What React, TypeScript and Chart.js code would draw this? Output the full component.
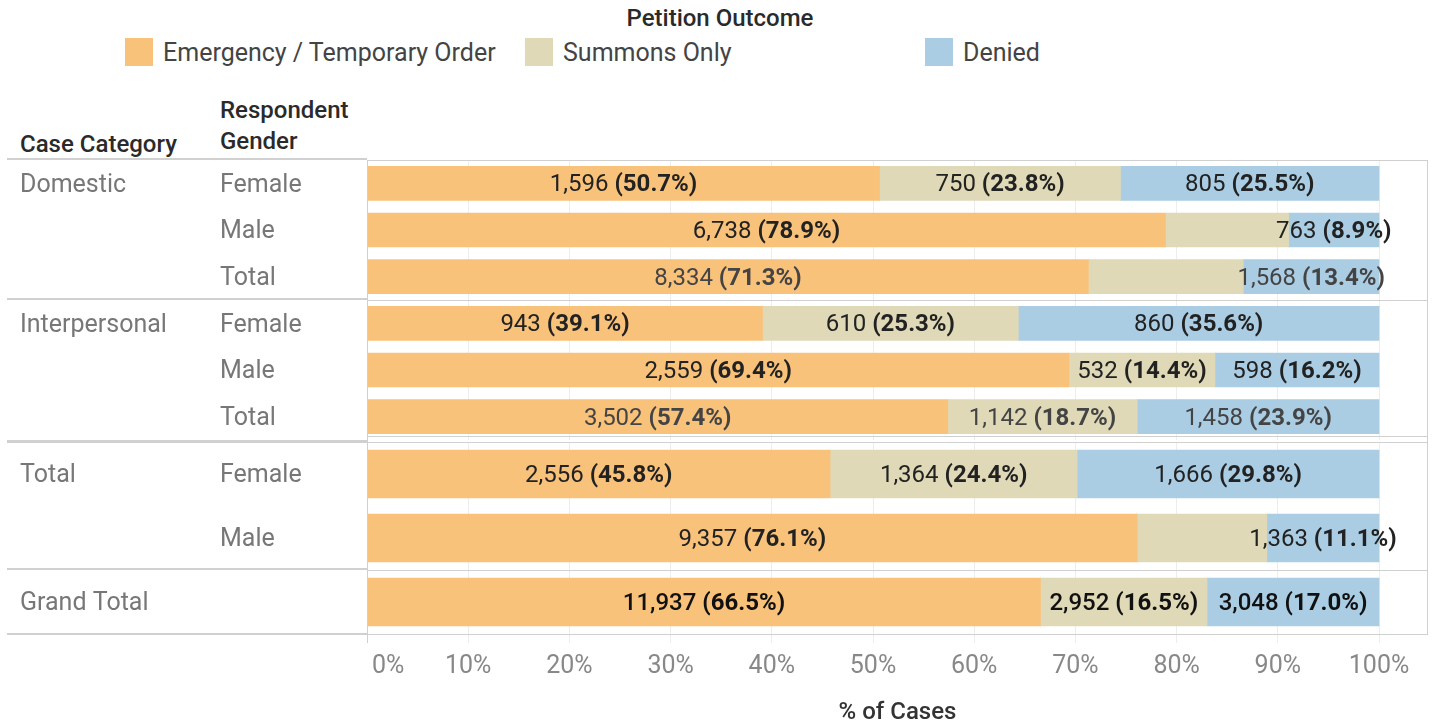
import React, { useEffect, useRef } from 'react';
import { Chart, registerables } from 'chart.js';

Chart.register(...registerables);

// ---------- DATA ----------
const OUTCOMES = ['Emergency / Temporary Order', 'Summons Only', 'Denied'];
const COLORS = ['#F9C27B', '#DFD9B7', '#AACDE4'];

const DOMESTIC_GENDER = ['Female', 'Male', 'Total'];
const DOMESTIC_EMERGENCY = [1596, 6738, 8334];
const DOMESTIC_SUMMONS = [750, 1039, 1789];
const DOMESTIC_DENIED = [805, 763, 1568];

const INTERPERSONAL_GENDER = ['Female', 'Male', 'Total'];
const INTERPERSONAL_EMERGENCY = [943, 2559, 3502];
const INTERPERSONAL_SUMMONS = [610, 532, 1142];
const INTERPERSONAL_DENIED = [860, 598, 1458];

const TOTAL_GENDER = ['Female', 'Male'];
const TOTAL_EMERGENCY = [2556, 9357];
const TOTAL_SUMMONS = [1364, 1575];
const TOTAL_DENIED = [1666, 1363];

const GRAND_GENDER = [''];
const GRAND_EMERGENCY = [11937];
const GRAND_SUMMONS = [2952];
const GRAND_DENIED = [3048];

const X_TICKS = [0, 10, 20, 30, 40, 50, 60, 70, 80, 90, 100];
const X_MAX = 104.84;

const GROUPS = [
  { category: 'Domestic', genders: DOMESTIC_GENDER, series: [DOMESTIC_EMERGENCY, DOMESTIC_SUMMONS, DOMESTIC_DENIED], grand: false },
  { category: 'Interpersonal', genders: INTERPERSONAL_GENDER, series: [INTERPERSONAL_EMERGENCY, INTERPERSONAL_SUMMONS, INTERPERSONAL_DENIED], grand: false },
  { category: 'Total', genders: TOTAL_GENDER, series: [TOTAL_EMERGENCY, TOTAL_SUMMONS, TOTAL_DENIED], grand: false },
  { category: 'Grand Total', genders: GRAND_GENDER, series: [GRAND_EMERGENCY, GRAND_SUMMONS, GRAND_DENIED], grand: true },
];

// ---------- LAYOUT ----------
const FONT = 'Roboto';
const LAYOUT = [
  { top: 160, height: 140, bar: 34, axis: false },
  { top: 300, height: 140, bar: 34, axis: false },
  { top: 442, height: 128, bar: 48, axis: false },
  { top: 570, height: 158, bar: 48, axis: true },
];
const LINE_COLOR = '#d0d0d0';
// [x0, x1, y, thickness]
const H_LINES = [
  [7, 367, 158, 2], [367, 1428, 160, 1],
  [7, 367, 298, 2], [367, 1428, 300, 1],
  [367, 1428, 436, 1], [7, 367, 440, 3], [367, 1428, 442, 1],
  [7, 367, 568, 2], [367, 1428, 570, 1],
  [7, 367, 633, 2], [367, 1428, 634, 1],
];
// [x, y0, y1]
const V_LINES = [[1427, 160, 635], [367, 160, 634]];

const segLabels = {
  id: 'segLabels',
  afterDatasetsDraw(chart: any, _args: any, opts: any) {
    const ctx = chart.ctx;
    const n = chart.data.labels.length;
    const order = [2, 0, 1];
    const size = 24;
    for (let i = 0; i < n; i++) {
      const placed: number[][] = [];
      const gender = chart.data.labels[i];
      const color = opts.grand ? '#111' : gender === 'Total' ? '#444' : '#222';
      const numWeight = opts.grand ? '500' : '400';
      for (const k of order) {
        const meta = chart.getDatasetMeta(k);
        const el: any = meta.data[i];
        const ds: any = chart.data.datasets[k];
        const count = ds.counts[i];
        const pct = ds.data[i];
        if (!count || !el) continue;
        const numText = count.toLocaleString('en-US') + ' ';
        const pctText = '(' + pct.toFixed(1) + '%)';
        ctx.save();
        ctx.font = `${numWeight} ${size}px ${FONT}`;
        const w1 = ctx.measureText(numText).width;
        ctx.font = `bold ${size}px ${FONT}`;
        const w2 = ctx.measureText(pctText).width;
        const w = w1 + w2;
        const cx = (el.x + el.base) / 2;
        const x0 = cx - w / 2;
        const x1 = cx + w / 2;
        if (placed.some(([a, b]) => x0 < b && x1 > a)) { ctx.restore(); continue; }
        placed.push([x0, x1]);
        ctx.fillStyle = color;
        ctx.textBaseline = 'middle';
        ctx.textAlign = 'left';
        ctx.font = `${numWeight} ${size}px ${FONT}`;
        ctx.fillText(numText, x0, el.y + 2);
        ctx.font = `bold ${size}px ${FONT}`;
        ctx.fillText(pctText, x0 + w1, el.y + 2);
        ctx.restore();
      }
    }
  },
};

function GroupChart({ group, layout }: { group: any; layout: any }) {
  const ref = useRef<HTMLCanvasElement>(null);
  useEffect(() => {
    if (!ref.current) return;
    const n = group.genders.length;
    const totals = Array.from({ length: n }, (_, i) =>
      group.series.reduce((s: number, arr: number[]) => s + arr[i], 0)
    );
    const datasets = group.series.map((arr: number[], k: number) => ({
      label: OUTCOMES[k],
      data: arr.map((v, i) => (v / totals[i]) * 100),
      counts: arr,
      backgroundColor: COLORS[k],
      borderWidth: 0,
      barThickness: layout.bar,
    }));
    const catLabels = group.genders.map((_: string, i: number) => (i === 0 ? group.category : ''));
    const rowFont = { family: FONT, size: 25 };
    const chart = new Chart(ref.current, {
      type: 'bar',
      data: { labels: group.genders, datasets },
      options: {
        indexAxis: 'y',
        animation: false,
        responsive: false,
        maintainAspectRatio: false,
        layout: { padding: { left: 20, right: 4, top: 0, bottom: 0 } },
        plugins: {
          legend: { display: false },
          tooltip: { enabled: false },
          segLabels: { grand: group.grand },
        } as any,
        scales: {
          x: {
            type: 'linear',
            stacked: true,
            min: 0,
            max: X_MAX,
            position: 'bottom',
            afterBuildTicks: (s: any) => {
              s.ticks = X_TICKS.map((v) => ({ value: v }));
            },
            afterFit: (s: any) => {
              s.height = layout.axis ? 94 : 0;
            },
            grid: {
              color: (c: any) => (c.tick && c.tick.value === 0 ? LINE_COLOR : '#ededed'),
              lineWidth: 1,
              drawTicks: layout.axis,
              tickLength: 9,
            },
            border: { display: false },
            ticks: {
              display: layout.axis,
              color: '#888',
              font: { family: FONT, size: 25 },
              padding: 9,
              maxRotation: 0,
              autoSkip: false,
              callback: (v: any) => (v === 0 ? '\u2007\u2007\u20070%' : v + '%'),
            },
            title: {
              display: layout.axis,
              text: '% of Cases',
              color: '#333',
              font: { family: FONT, size: 24, weight: '500' },
              padding: { top: 0, bottom: 1 },
            },
          },
          y: {
            type: 'category',
            stacked: true,
            position: 'left',
            weight: 0,
            grid: { display: false },
            border: { display: false },
            ticks: { crossAlign: 'far', color: '#777', font: rowFont, padding: 0, autoSkip: false, labelOffset: 2 },
            afterFit: (s: any) => {
              s.width = 147;
              s.paddingTop = 0;
              s.paddingBottom = 0;
            },
          },
          y2: {
            type: 'category',
            labels: catLabels,
            offset: true,
            position: 'left',
            weight: 1,
            grid: { display: false },
            border: { display: false },
            ticks: { crossAlign: 'far', color: '#777', font: rowFont, padding: 0, autoSkip: false, labelOffset: 2 },
            afterFit: (s: any) => {
              s.width = 200;
              s.paddingTop = 0;
              s.paddingBottom = 0;
            },
          },
        } as any,
      },
      plugins: [segLabels as any],
    });
    return () => chart.destroy();
  }, [group, layout]);
  return (
    <canvas
      ref={ref}
      width={1432}
      height={layout.height}
      style={{ position: 'absolute', left: 0, top: layout.top, display: 'block' }}
    />
  );
}

export default function App() {
  const textBase: React.CSSProperties = { position: 'absolute', fontFamily: FONT, fontSize: 25, lineHeight: '28px', whiteSpace: 'nowrap' };
  return (
    <div style={{ position: 'absolute', left: 0, top: 0, width: 1432, height: 728, overflow: 'hidden', background: '#fff' }}>
      <div style={{ ...textBase, left: 520, top: 4, width: 400, textAlign: 'center', color: '#2a2a2a', fontWeight: 500, fontSize: 24 }}>
        Petition Outcome
      </div>
      {OUTCOMES.map((o, k) => (
        <React.Fragment key={o}>
          <div style={{ position: 'absolute', left: 125 + k * 400, top: 38, width: 28, height: 28, background: COLORS[k] }} />
          <div style={{ ...textBase, left: 163 + k * 400, top: 39, color: '#444' }}>{o}</div>
        </React.Fragment>
      ))}
      <div style={{ ...textBase, left: 20, top: 130, color: '#2a2a2a', fontWeight: 500, fontSize: 24 }}>Case Category</div>
      <div style={{ ...textBase, left: 220, top: 95, color: '#2a2a2a', fontWeight: 500, fontSize: 24, lineHeight: '31px' }}>
        Respondent
        <br />
        Gender
      </div>
      {GROUPS.map((g, i) => (
        <GroupChart key={g.category} group={g} layout={LAYOUT[i]} />
      ))}
      {H_LINES.map(([x0, x1, y, t], i) => (
        <div key={'h' + i} style={{ position: 'absolute', left: x0, top: y, width: x1 - x0, height: t, background: LINE_COLOR }} />
      ))}
      {V_LINES.map(([x, y0, y1], i) => (
        <div key={'v' + i} style={{ position: 'absolute', left: x, top: y0, width: 1, height: y1 - y0, background: LINE_COLOR }} />
      ))}
    </div>
  );
}
